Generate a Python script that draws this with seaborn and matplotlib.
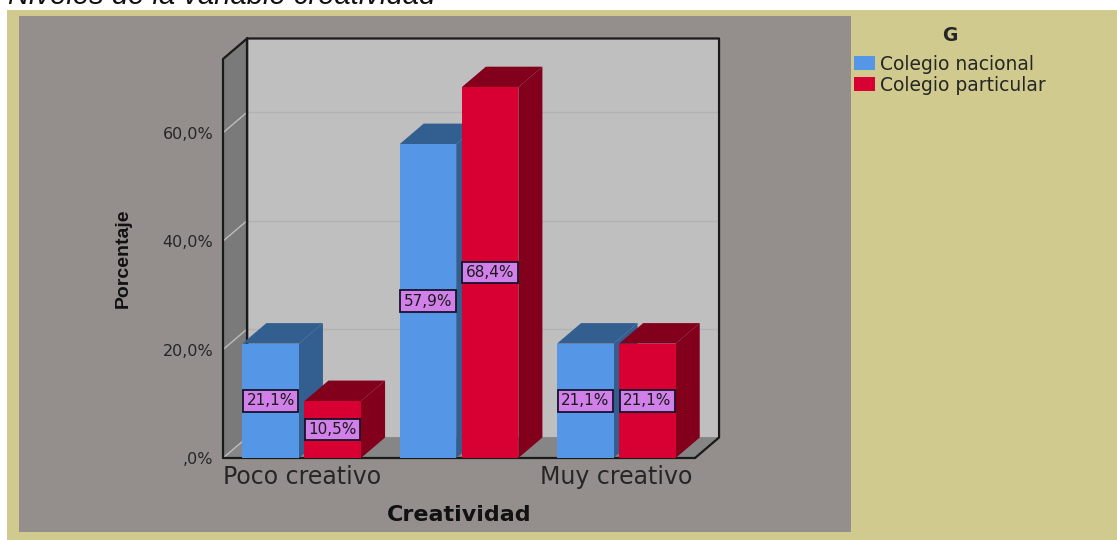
# Niveles de la variable creatividad - SPSS style 3D clustered bars
import pandas as pd
import matplotlib.pyplot as plt
from matplotlib.patches import Polygon, Rectangle
import seaborn as sns

# Data
categorias = ["Poco creativo", "Creativo", "Muy creativo"]
etiquetas_x = ["Poco creativo", "", "Muy creativo"]
colegio_nacional = [21.1, 57.9, 21.1]
colegio_particular = [10.5, 68.4, 21.1]
ticks_y = [0, 20, 40, 60]
etiquetas_y = [",0%", "20,0%", "40,0%", "60,0%"]

df = pd.DataFrame({
    "Creatividad": categorias * 2,
    "Porcentaje": colegio_nacional + colegio_particular,
    "G": ["Colegio nacional"] * 3 + ["Colegio particular"] * 3,
})

W, H = 1117, 540
KHAKI = "#d0ca8e"
PANEL = "#948f8d"
AZUL, AZUL_OSC = "#5596e6", "#335e90"
ROJO, ROJO_OSC = "#d80032", "#82001c"

sns.set_theme(style="white")
plt.rcParams["font.family"] = ["DejaVu Sans"]

fig = plt.figure(figsize=(W / 100, H / 100), dpi=100, facecolor="white")


def caja(x0, y0, x1, y1, color):
    # rectangle given in image pixels, y going down
    fig.add_artist(Rectangle((x0 / W, 1 - y1 / H), (x1 - x0) / W, (y1 - y0) / H,
                             transform=fig.transFigure, facecolor=color,
                             edgecolor="none", zorder=-5))


caja(7, 10, W, H, KHAKI)
caja(19, 16, 851, 532, PANEL)

# axes = front plane of the 3D box
ax = fig.add_axes([223 / W, 1 - 458 / H, 472 / W, 399 / H])
ax.patch.set_visible(False)

sns.barplot(data=df, x="Creatividad", y="Porcentaje", hue="G", order=categorias,
            palette=[AZUL, ROJO], width=0.79, gap=0.09, saturation=1,
            linewidth=0, edgecolor="none", ax=ax)

ax.set_xlim(-0.5, 2.5)
ax.set_ylim(0, 73.6)
dx = 24 / 157   # depth in data units
dy = 20.5 / 5.42
x0, x1 = ax.get_xlim()
y0, y1 = ax.get_ylim()


def poly(pts, fc, ec="none", lw=0.0, z=1):
    ax.add_patch(Polygon(pts, closed=True, facecolor=fc, edgecolor=ec, linewidth=lw,
                         clip_on=False, zorder=z))


# walls
poly([(x0 + dx, y0 + dy), (x1 + dx, y0 + dy), (x1 + dx, y1 + dy), (x0 + dx, y1 + dy)], "#bfbfbf", z=0.5)
poly([(x0, y0), (x0 + dx, y0 + dy), (x0 + dx, y1 + dy), (x0, y1)], "#7a7a7a", z=0.6)
poly([(x0, y0), (x1, y0), (x1 + dx, y0 + dy), (x0 + dx, y0 + dy)], "#868686", z=0.6)

# gridlines along side wall and back wall
for t in ticks_y:
    ax.plot([x0, x0 + dx], [t, t + dy], color="#bdbdbd", lw=1, clip_on=False, zorder=0.8)
    if t > 0:
        ax.plot([x0 + dx, x1 + dx], [t + dy, t + dy], color="#b2b2b2", lw=1, clip_on=False, zorder=0.8)

# box outline
negro = dict(color="#1a1a1a", lw=1.6, clip_on=False, zorder=0.9, solid_capstyle="round")
ax.plot([x0, x0, x0 + dx, x0 + dx, x0 + dx], [y0, y1, y1 + dy, y0 + dy, y1 + dy], **negro)
ax.plot([x0 + dx, x1 + dx, x1 + dx, x1], [y1 + dy, y1 + dy, y0 + dy, y0], **negro)
ax.plot([x0, x1], [y0, y0], **negro)

# side and top faces from the seaborn bars
for cont, oscuro in zip(ax.containers, [AZUL_OSC, ROJO_OSC]):
    for b in cont:
        bx0, bx1 = b.get_x(), b.get_x() + b.get_width()
        h = b.get_height()
        z = 2 + bx0
        poly([(bx1, 0), (bx1 + dx, dy), (bx1 + dx, h + dy), (bx1, h)], oscuro, z=z)
        poly([(bx0, h), (bx1, h), (bx1 + dx, h + dy), (bx0 + dx, h + dy)], oscuro, z=z)
        b.set_zorder(z + 0.01)
        b.set_clip_on(False)

# data labels
for cont in ax.containers:
    txt = [f"{v:.1f}%".replace(".", ",") for v in cont.datavalues]
    for t in ax.bar_label(cont, labels=txt, label_type="center", fontsize=11, color="#1a1a1a",
                          bbox=dict(boxstyle="square,pad=0.22", facecolor="#d080e8",
                                    edgecolor="#141428", linewidth=1.3)):
        t.set_zorder(10)

ax.set_xticks(range(3), etiquetas_x)
ax.set_yticks(ticks_y, etiquetas_y)
ax.tick_params(axis="x", length=0, pad=5, labelsize=17, labelcolor="#262626")
ax.tick_params(axis="y", length=0, pad=7, labelsize=11.5, labelcolor="#262626")
sns.despine(ax=ax, left=True, bottom=True)

ax.set_xlabel("")
ax.set_ylabel("")
fig.text(459 / W, 1 - 515 / H, "Creatividad", ha="center", va="center", fontsize=16,
         fontweight="bold", color="#111111")
fig.text(123 / W, 1 - 258 / H, "Porcentaje", ha="center", va="center", rotation=90,
         fontsize=14, fontweight="bold", color="#111111", family="Liberation Sans")
fig.text(8 / W, 1 - 4 / H, "Niveles de la variable creatividad", ha="left", va="baseline",
         fontsize=21, style="italic", color="#111111", family="Liberation Sans")

# legend
leg = ax.legend(title="G", loc="upper left", bbox_to_anchor=(854 / W, 1 - 26 / H),
                bbox_transform=fig.transFigure, frameon=False, fontsize=13.5,
                handlelength=1.1, handleheight=0.75, handletextpad=0.3, labelspacing=0.1,
                borderpad=0, borderaxespad=0)
leg.get_title().set_fontweight("bold")
leg.get_title().set_fontsize(13.5)
leg._legend_box.sep = 7
for t in leg.get_texts():
    t.set_color("#262626")

fig.savefig("out.png", dpi=100)
